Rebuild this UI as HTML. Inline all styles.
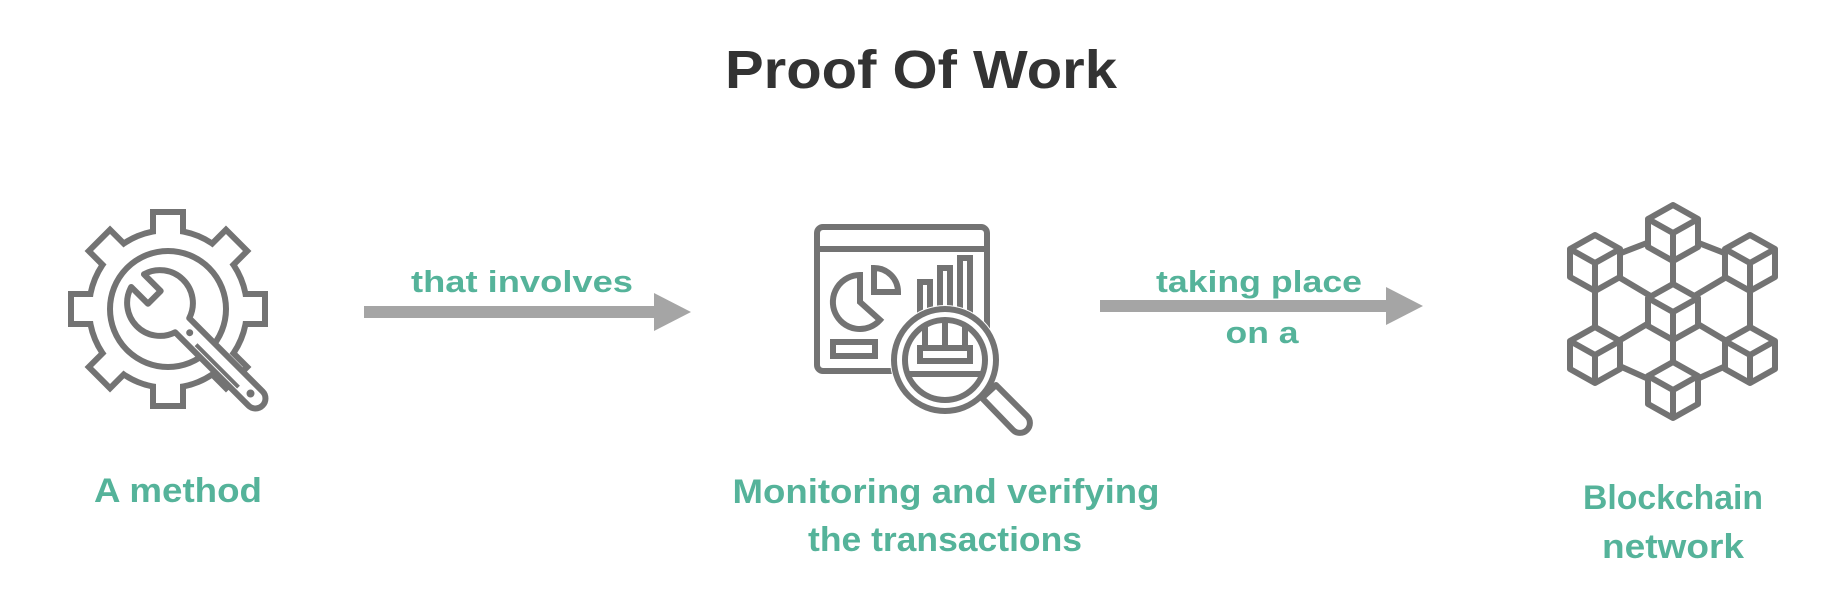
<!DOCTYPE html>
<html><head><meta charset="utf-8"><style>
html,body{margin:0;padding:0;background:#fff;}
svg{display:block;}
text{font-family:"Liberation Sans",sans-serif;font-weight:bold;}
</style></head><body>
<svg width="1832" height="606" viewBox="0 0 1832 606" xmlns="http://www.w3.org/2000/svg">
<rect width="1832" height="606" fill="#fff"/>
<text x="921" y="88" font-size="54" fill="#333" text-anchor="middle" textLength="392" lengthAdjust="spacingAndGlyphs">Proof Of Work</text>

<!-- Gear -->
<g transform="translate(168,309)" stroke="none">
  <g fill="#737373">
    <circle r="82"/>
    <g id="tg"><rect x="-18" y="-100" width="36" height="34"/></g>
    <use href="#tg" transform="rotate(45)"/><use href="#tg" transform="rotate(90)"/><use href="#tg" transform="rotate(135)"/>
    <use href="#tg" transform="rotate(180)"/><use href="#tg" transform="rotate(225)"/><use href="#tg" transform="rotate(270)"/><use href="#tg" transform="rotate(315)"/>
  </g>
  <g fill="#fff">
    <circle r="76"/>
    <g id="tw"><rect x="-12" y="-94" width="24" height="30"/></g>
    <use href="#tw" transform="rotate(45)"/><use href="#tw" transform="rotate(90)"/><use href="#tw" transform="rotate(135)"/>
    <use href="#tw" transform="rotate(180)"/><use href="#tw" transform="rotate(225)"/><use href="#tw" transform="rotate(270)"/><use href="#tw" transform="rotate(315)"/>
  </g>
  <circle r="58" fill="none" stroke="#737373" stroke-width="6"/>
</g>
<!-- wrench -->
<g transform="translate(160,303) rotate(45)">
  <path d="M31.4 -10 L135 -10 A10 10 0 0 1 135 10 L31.4 10 A33 33 0 0 1 -31.7 9 L-8 9 L-8 -9 L-31.7 -9 A33 33 0 0 1 31.4 -10 Z" fill="#fff" stroke="#737373" stroke-width="6" stroke-linejoin="round"/>
  <circle cx="42" cy="0" r="3.5" fill="#737373"/>
  <circle cx="128" cy="0" r="4" fill="#737373"/>
  <line x1="55" y1="4" x2="115" y2="4" stroke="#737373" stroke-width="4"/>
</g>

<!-- Arrow 1 -->
<rect x="364" y="306" width="292" height="12" fill="#a5a5a5"/>
<polygon points="654,293 691,312 654,331" fill="#a5a5a5"/>
<text x="522" y="292" font-size="31" fill="#55b39a" text-anchor="middle" textLength="222" lengthAdjust="spacingAndGlyphs">that involves</text>

<!-- Monitor icon -->
<g fill="none" stroke="#737373" stroke-width="6">
  <rect x="817" y="227" width="170" height="144" rx="6"/>
  <line x1="817" y1="249" x2="987" y2="249"/>
  <path d="M860 302 L860 275 A27 27 0 1 0 880 320 Z"/>
  <path d="M874 268 L874 292 L898 292 A24 24 0 0 0 874 268 Z"/>
  <rect x="833" y="342" width="42" height="14"/>
  <rect x="920" y="282" width="10" height="40"/>
  <rect x="940" y="268" width="10" height="54"/>
  <rect x="960" y="258" width="10" height="64"/>
</g>
<circle cx="945" cy="360" r="55" fill="#fff"/>
<g fill="none" stroke="#737373" stroke-width="6">
  <circle cx="945" cy="360" r="51"/>
  <circle cx="945" cy="360" r="40"/>
  <line x1="906" y1="374" x2="984" y2="374"/>
  <rect x="920" y="348" width="50" height="13"/>
  <line x1="925" y1="324" x2="925" y2="348"/><line x1="945" y1="320" x2="945" y2="348"/><line x1="965" y1="324" x2="965" y2="348"/>
  <path d="M982 398 L996 385 L1027 416 A9.5 9.5 0 0 1 1013 430 Z" stroke-linejoin="round"/>
</g>

<!-- Arrow 2 -->
<rect x="1100" y="300" width="290" height="12" fill="#a5a5a5"/>
<polygon points="1386,287 1423,306 1386,325" fill="#a5a5a5"/>
<text x="1259" y="292" font-size="31" fill="#55b39a" text-anchor="middle" textLength="206" lengthAdjust="spacingAndGlyphs">taking place</text>
<text x="1262" y="343" font-size="31" fill="#55b39a" text-anchor="middle" textLength="73" lengthAdjust="spacingAndGlyphs">on a</text>

<!-- Blockchain -->
<g stroke="#737373" stroke-width="6" fill="none">
  <path d="M1673 233 L1595 263 L1595 355 L1673 390 L1750 355 L1750 263 Z"/>
  <path d="M1673 233 L1673 390 M1595 263 L1750 355 M1750 263 L1595 355"/>
</g>
<g stroke="#737373" stroke-width="6" fill="#fff" stroke-linejoin="round">
  <g transform="translate(1673,233)"><path d="M0 -28 L25 -14 L25 14 L0 28 L-25 14 L-25 -14 Z"/><path d="M-25 -14 L0 0 L25 -14 M0 0 L0 28" fill="none"/></g>
  <g transform="translate(1595,263)"><path d="M0 -28 L25 -14 L25 14 L0 28 L-25 14 L-25 -14 Z"/><path d="M-25 -14 L0 0 L25 -14 M0 0 L0 28" fill="none"/></g>
  <g transform="translate(1750,263)"><path d="M0 -28 L25 -14 L25 14 L0 28 L-25 14 L-25 -14 Z"/><path d="M-25 -14 L0 0 L25 -14 M0 0 L0 28" fill="none"/></g>
  <g transform="translate(1673,312)"><path d="M0 -28 L25 -14 L25 14 L0 28 L-25 14 L-25 -14 Z"/><path d="M-25 -14 L0 0 L25 -14 M0 0 L0 28" fill="none"/></g>
  <g transform="translate(1595,355)"><path d="M0 -28 L25 -14 L25 14 L0 28 L-25 14 L-25 -14 Z"/><path d="M-25 -14 L0 0 L25 -14 M0 0 L0 28" fill="none"/></g>
  <g transform="translate(1750,355)"><path d="M0 -28 L25 -14 L25 14 L0 28 L-25 14 L-25 -14 Z"/><path d="M-25 -14 L0 0 L25 -14 M0 0 L0 28" fill="none"/></g>
  <g transform="translate(1673,390)"><path d="M0 -28 L25 -14 L25 14 L0 28 L-25 14 L-25 -14 Z"/><path d="M-25 -14 L0 0 L25 -14 M0 0 L0 28" fill="none"/></g>
</g>

<!-- Labels -->
<g font-size="34" fill="#55b39a" text-anchor="middle">
  <text x="178" y="502" textLength="168" lengthAdjust="spacingAndGlyphs">A method</text>
  <text x="946" y="503" textLength="427" lengthAdjust="spacingAndGlyphs">Monitoring and verifying</text>
  <text x="945" y="551" textLength="274" lengthAdjust="spacingAndGlyphs">the transactions</text>
  <text x="1673" y="509" textLength="180" lengthAdjust="spacingAndGlyphs">Blockchain</text>
  <text x="1673" y="558" textLength="142" lengthAdjust="spacingAndGlyphs">network</text>
</g>
</svg>
</body></html>
